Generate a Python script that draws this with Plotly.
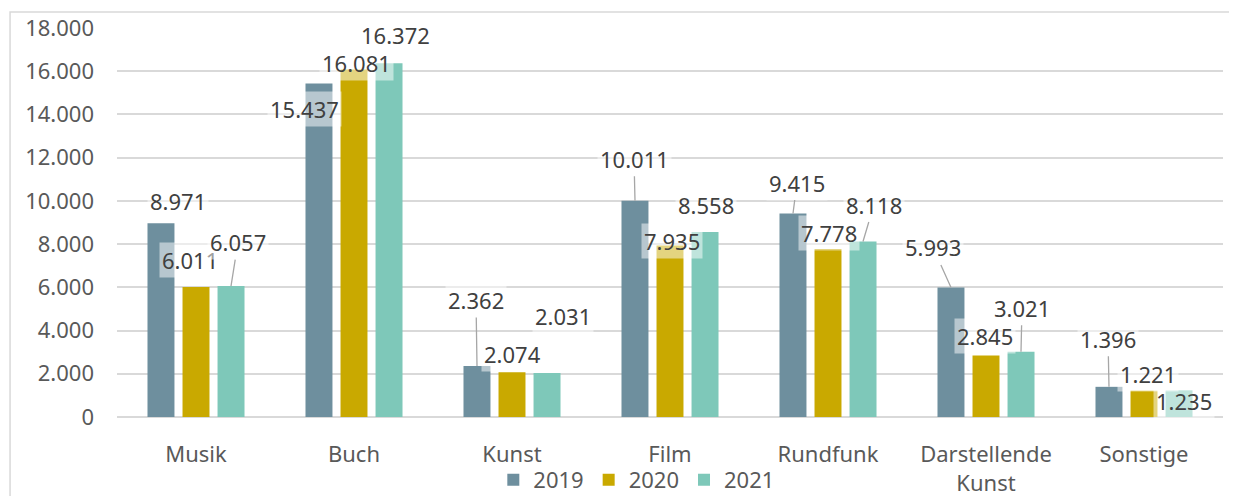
import plotly.graph_objects as go

# Daten
kategorien = ["Musik", "Buch", "Kunst", "Film", "Rundfunk", "Darstellende<br>Kunst", "Sonstige"]
jahre = ["2019", "2020", "2021"]
werte_2019 = [8971, 15437, 2362, 10011, 9415, 5993, 1396]
werte_2020 = [6011, 16081, 2074, 7935, 7778, 2845, 1221]
werte_2021 = [6057, 16372, 2031, 8558, 8118, 3021, 1235]
y_ticks = [0, 2000, 4000, 6000, 8000, 10000, 12000, 14000, 16000, 18000]
y_ticktext = ["0", "2.000", "4.000", "6.000", "8.000", "10.000", "12.000", "14.000", "16.000", "18.000"]

farben = ["#6E8F9E", "#C9A900", "#7EC8B9"]
serien = [werte_2019, werte_2020, werte_2021]

# Label-Versatz (Pixel) vom Balkenende, und ob eine Führungslinie gezeichnet wird
label_offset = [
    [(17, -22, False), (-15, 26, False), (-1, -66, True), (-1, -42, True), (4, -31, True), (-18, -40, True), (-1, -48, True)],
    [(-6, -27, False), (2, -6, False), (0, -18, False), (2, -5, False), (1, -16, False), (-1, -20, False), (4, -17, False)],
    [(7, -44, True), (6, -28, False), (16, -57, False), (1, -27, False), (11, -37, True), (1, -44, True), (5, 11, False)],
]

def de_format(v):
    return f"{v:,}".replace(",", ".")

fig = go.Figure()
for jahr, werte, farbe in zip(jahre, serien, farben):
    fig.add_trace(go.Bar(x=kategorien, y=werte, name=jahr, marker_color=farbe,
                         marker_line_width=0))

slot = 35  # Pixelbreite eines Balken-Slots
for i, werte in enumerate(serien):
    for j, v in enumerate(werte):
        dx, dy, linie = label_offset[i][j]
        fig.add_annotation(
            x=kategorien[j], y=v, xshift=(i - 1) * slot,
            text=de_format(v), showarrow=True, ax=dx, ay=dy,
            arrowhead=0, arrowwidth=1.3, standoff=0,
            arrowcolor="#a6a6a6" if linie else "rgba(0,0,0,0)",
            bgcolor="rgba(255,255,255,0.5)", borderpad=2,
            font=dict(size=22, color="#404040"),
        )

# Rahmen um das Diagramm
fig.add_shape(type="rect", xref="paper", yref="paper",
              x0=-0.0967, x1=1.05, y0=-0.5, y1=1.041,
              line=dict(color="#d9d9d9", width=1.5), layer="below")

# Seite hat 8px Body-Rand -> Figur etwas kleiner
fig.update_layout(
    width=1229, height=488,
    margin=dict(l=109, r=14, t=20, b=79, autoexpand=False),
    paper_bgcolor="white", plot_bgcolor="white",
    font=dict(family="Noto Sans", size=22, color="#595959"),
    barmode="group", bargap=0.335, bargroupgap=0.23,
    showlegend=True,
    legend=dict(orientation="h", x=0.47, xanchor="center", y=-0.162, yanchor="middle",
                bgcolor="rgba(0,0,0,0)",
                font=dict(size=22, color="#595959"), itemwidth=30, traceorder="normal"),
    xaxis=dict(showgrid=False, showline=False, ticks="", ticklabelstandoff=22, automargin=False),
    yaxis=dict(range=[0, 18000], tickvals=y_ticks, ticktext=y_ticktext, automargin=False,
               gridcolor="#d9d9d9", gridwidth=1.5, zeroline=True, zerolinecolor="#d9d9d9",
               zerolinewidth=1.5, ticklabelstandoff=22, fixedrange=True),
)

fig.write_html("out.html")
